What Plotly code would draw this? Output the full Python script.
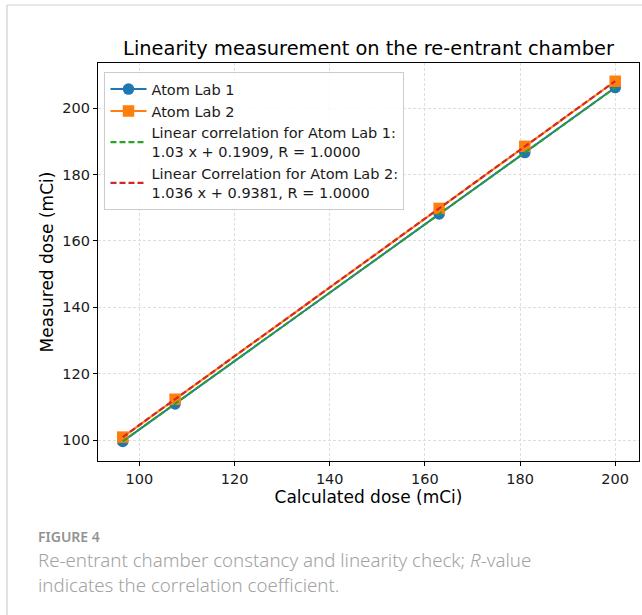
import numpy as np
import plotly.graph_objects as go

# ---- data ----
calculated_dose = [96.5, 107.5, 163.0, 181.0, 200.0]
atom_lab_1 = [99.6, 110.9, 168.1, 186.6, 206.2]
atom_lab_2 = [100.9, 112.3, 169.8, 188.5, 208.1]
fit1_slope, fit1_intercept = 1.03, 0.1909
fit2_slope, fit2_intercept = 1.036, 0.9381
x_ticks = [100, 120, 140, 160, 180, 200]
y_ticks = [100, 120, 140, 160, 180, 200]

x_arr = np.array(calculated_dose)
fit1 = fit1_slope * x_arr + fit1_intercept
fit2 = fit2_slope * x_arr + fit2_intercept

BLUE, ORANGE, GREEN, RED = "#1f77b4", "#ff7f0e", "#2ca02c", "#d62728"
MPL = "DejaVu Sans"

fig = go.Figure()
fig.add_trace(go.Scatter(x=calculated_dose, y=atom_lab_1, mode="lines+markers",
                         name="Atom Lab 1", line=dict(color=BLUE, width=2),
                         marker=dict(symbol="circle", size=11.5, color=BLUE)))
fig.add_trace(go.Scatter(x=calculated_dose, y=atom_lab_2, mode="lines+markers",
                         name="Atom Lab 2", line=dict(color=ORANGE, width=2),
                         marker=dict(symbol="square", size=11.5, color=ORANGE)))
fig.add_trace(go.Scatter(x=calculated_dose, y=fit1, mode="lines",
                         name="Linear correlation for Atom Lab 1:<br>1.03 x + 0.1909, R = 1.0000",
                         line=dict(color=GREEN, width=2.2, dash="6px,3px")))
fig.add_trace(go.Scatter(x=calculated_dose, y=fit2, mode="lines",
                         name="Linear Correlation for Atom Lab 2:<br>1.036 x + 0.9381, R = 1.0000",
                         line=dict(color=RED, width=2.2, dash="6px,3px")))

axis_common = dict(
    showline=True, linecolor="black", linewidth=1.2, mirror=True,
    ticks="outside", ticklen=4, tickcolor="black", tickwidth=1,
    showgrid=True, gridcolor="#dedede", gridwidth=0.8, griddash="3px,2px",
    zeroline=False, tickfont=dict(family=MPL, size=14.5, color="#1a1a1a"),
)

fig.update_xaxes(range=[91.3, 205.0], tickvals=x_ticks,
                 title=dict(text="Calculated dose (mCi)", font=dict(family=MPL, size=17, color="black"), standoff=5),
                 **axis_common)
fig.update_yaxes(range=[93.7, 213.6], tickvals=y_ticks,
                 title=dict(text="Measured dose (mCi)", font=dict(family=MPL, size=17, color="black"), standoff=4),
                 **axis_common)

fig.update_layout(
    width=642, height=615,
    margin=dict(l=98, r=3, t=63, b=154),
    paper_bgcolor="white", plot_bgcolor="white",
    showlegend=True,
    title=dict(text="Linearity measurement on the re-entrant chamber",
               font=dict(family=MPL, size=19.4, color="black"),
               x=(98 + 639) / 2 / 642, xanchor="center", y=1 - 48 / 615, yanchor="middle"),
    legend=dict(x=0.012, y=0.977, xanchor="left", yanchor="top",
                bgcolor="rgba(255,255,255,0.85)", bordercolor="#cccccc", borderwidth=1,
                font=dict(family=MPL, size=14.5, color="#1a1a1a"),
                tracegroupgap=0, itemwidth=36),
)

# page frame (light gray border, top and left)
fig.add_shape(type="line", xref="paper", yref="paper",
              x0=(7 - 98) / 541, x1=1.1, y0=(461 - 5) / 398, y1=(461 - 5) / 398,
              line=dict(color="#cfcfcf", width=1.2))
fig.add_shape(type="line", xref="paper", yref="paper",
              x0=(7 - 98) / 541, x1=(7 - 98) / 541, y0=(461 - 5) / 398, y1=(461 - 620) / 398,
              line=dict(color="#cfcfcf", width=1.2))

# caption
CAP = "Noto Sans"
def px_x(px):
    return (px - 98) / 541
def px_y(py):
    return (461 - py) / 398

fig.add_annotation(xref="paper", yref="paper", x=px_x(36), y=px_y(536), xanchor="left", yanchor="middle",
                   text="FIGURE 4", showarrow=False,
                   font=dict(family=CAP, size=14, color="#929292", weight=600))
fig.add_annotation(xref="paper", yref="paper", x=px_x(36), y=px_y(559), xanchor="left", yanchor="middle",
                   text="Re-entrant chamber constancy and linearity check; <i>R</i>-value", showarrow=False,
                   font=dict(family=CAP, size=18.7, color="#a2a2a2", weight=300))
fig.add_annotation(xref="paper", yref="paper", x=px_x(36), y=px_y(584), xanchor="left", yanchor="middle",
                   text="indicates the correlation coefficient.", showarrow=False,
                   font=dict(family=CAP, size=18.7, color="#a2a2a2", weight=300))

fig.write_html("out.html", config={"displayModeBar": False},
               post_script="document.body.style.margin='0';document.body.style.overflow='hidden';")
